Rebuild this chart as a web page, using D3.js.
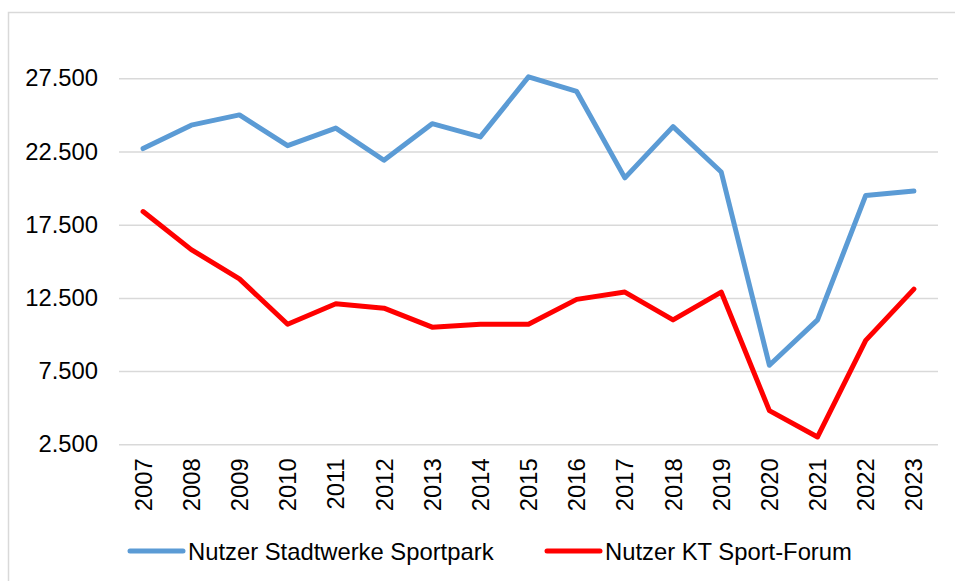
<!DOCTYPE html>
<html>
<head>
<meta charset="utf-8">
<script src="https://cdn.jsdelivr.net/npm/d3@7"></script>
<style>
  html, body { margin: 0; padding: 0; background: #fff; }
  svg { display: block; font-family: "Liberation Sans", Arial, sans-serif; }
</style>
</head>
<body>
<svg id="chart" width="955" height="581"></svg>
<script>
// Jahreswerte der Nutzerzahlen
const years = ["2007","2008","2009","2010","2011","2012","2013","2014","2015",
               "2016","2017","2018","2019","2020","2021","2022","2023"];
const sportpark = [22700, 24300, 25000, 22900, 24100, 21900, 24400, 23500, 27600,
                   26600, 20700, 24200, 21100, 7900, 11000, 19500, 19800];
const sportForum = [18400, 15800, 13800, 10700, 12100, 11800, 10500, 10700, 10700,
                    12400, 12900, 11000, 12900, 4800, 3000, 9600, 13100];
const seriesNames = ["Nutzer Stadtwerke Sportpark", "Nutzer KT Sport-Forum"];
const seriesColors = ["#5b9bd5", "#ff0000"];
const yTicks = [2500, 7500, 12500, 17500, 22500, 27500];

const svg = d3.select("#chart");
const W = 955, H = 581;
const plot = { left: 119, right: 938, top: 41.7, bottom: 444.3 };
const fontSize = 23.8;

// Rahmen um das Diagramm
svg.append("rect")
  .attr("x", 8.5).attr("y", 12.5)
  .attr("width", W + 10).attr("height", H + 10)
  .attr("fill", "none").attr("stroke", "#d9d9d9").attr("stroke-width", 1.5);

const de = d3.formatLocale({ decimal: ",", thousands: ".", grouping: [3], currency: ["", " €"] });
const fmt = de.format(",.0f");

const x = d3.scaleBand().domain(years).range([plot.left, plot.right]).padding(0);
const xc = d => x(d) + x.bandwidth() / 2;
const y = d3.scaleLinear().domain([2500, 30000]).range([plot.bottom, plot.top]);

// Gitterlinien und Beschriftung der y-Achse
const yAxis = d3.axisLeft(y)
  .tickValues(yTicks)
  .tickFormat(fmt)
  .tickSize(-(plot.right - plot.left))
  .tickPadding(21);
const gy = svg.append("g")
  .attr("transform", `translate(${plot.left},0)`)
  .call(yAxis);
gy.select(".domain").remove();
gy.selectAll(".tick line").attr("stroke", "#d9d9d9").attr("stroke-width", 1.5);
gy.selectAll(".tick text")
  .attr("fill", "#000").attr("font-size", fontSize)
  .attr("font-family", "Liberation Sans, Arial, sans-serif");

// Jahreszahlen, senkrecht
const xAxis = d3.axisBottom(x).tickSize(0).tickPadding(0);
const gx = svg.append("g")
  .attr("transform", `translate(0,${plot.bottom})`)
  .call(xAxis);
gx.select(".domain").remove();
gx.selectAll(".tick text")
  .attr("fill", "#000").attr("font-size", fontSize)
  .attr("font-family", "Liberation Sans, Arial, sans-serif")
  .attr("text-anchor", "end")
  .attr("transform", "translate(0,14) rotate(-90)")
  .attr("x", 0).attr("y", 0).attr("dy", "0.36em");

// Linien der beiden Reihen
const line = d3.line().x((d, i) => xc(years[i])).y(d => y(d)).curve(d3.curveLinear);
[sportpark, sportForum].forEach((vals, k) => {
  svg.append("path")
    .datum(vals)
    .attr("d", line)
    .attr("fill", "none")
    .attr("stroke", seriesColors[k])
    .attr("stroke-width", 5)
    .attr("stroke-linejoin", "round")
    .attr("stroke-linecap", "round");
});

// Legende
const legendItems = [
  { x: 130, name: seriesNames[0], color: seriesColors[0] },
  { x: 547, name: seriesNames[1], color: seriesColors[1] }
];
const lg = svg.append("g");
legendItems.forEach(it => {
  lg.append("line")
    .attr("x1", it.x).attr("x2", it.x + 53)
    .attr("y1", 551).attr("y2", 551)
    .attr("stroke", it.color).attr("stroke-width", 5)
    .attr("stroke-linecap", "round");
  lg.append("text")
    .attr("x", it.x + 58).attr("y", 551).attr("dy", "0.36em")
    .attr("font-size", fontSize).attr("fill", "#000")
    .text(it.name);
});
</script>
</body>
</html>
